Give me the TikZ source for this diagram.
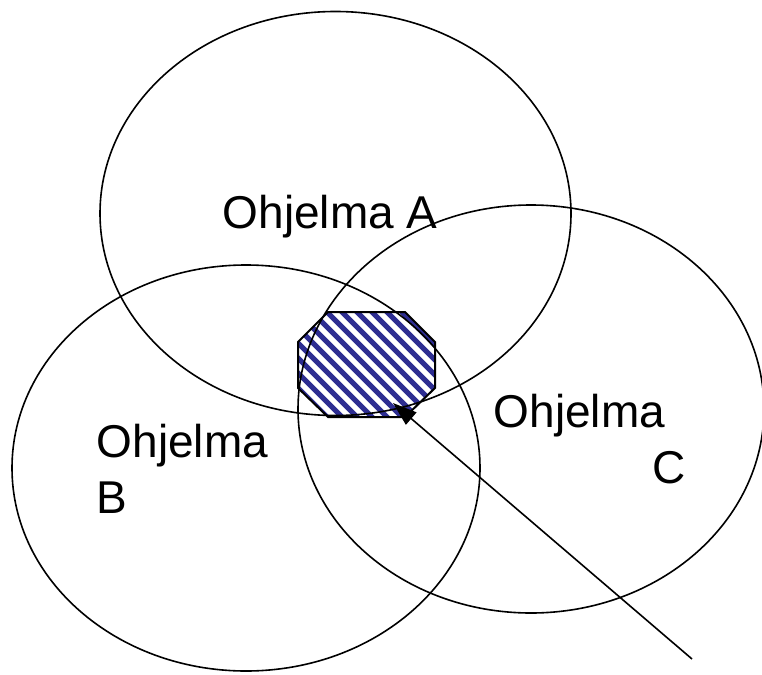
\documentclass[tikz,border=0pt]{standalone}
\usepackage{fontspec}
\setmainfont{Liberation Sans}
\usetikzlibrary{arrows.meta}
\definecolor{hatchblue}{RGB}{45,45,145}

\begin{document}
\begin{tikzpicture}[x=1pt,y=-1pt,line width=1.6pt,
  label/.style={inner sep=0pt,align=left,font=\fontsize{46}{56}\selectfont},
  hatch/.style={hatchblue,line width=5pt},
  pointer/.style={-{Triangle[length=24pt,width=16pt]},line width=1.6pt}]
\useasboundingbox (0,0) rectangle (762,674);
% hatched overlap
\path (328,312) coordinate (o1) (405,312) coordinate (o2) (435,342) coordinate (o3)
  (435,388) coordinate (o4) (405,417) coordinate (o5) (328,417) coordinate (o6)
  (298,388) coordinate (o7) (298,342) coordinate (o8);
\begin{scope}
\clip (o1) -- (o2) -- (o3) -- (o4) -- (o5) -- (o6) -- (o7) -- (o8) -- cycle;
\foreach \k in {-12,...,12}
  \draw[hatch] (300+\k*15,300) -- ++(135,135);
\end{scope}
\draw[line width=2pt] (o1) -- (o2) -- (o3) -- (o4) -- (o5) -- (o6) -- (o7) -- (o8) -- cycle;
% the three programs
\draw (335.5,213.5) ellipse [x radius=235.5pt,y radius=202pt];
\draw (246,468) ellipse [x radius=234pt,y radius=203pt];
\draw (531,409) ellipse [x radius=233pt,y radius=204pt];
\node[label,anchor=base west] (progA) at (222,228) {Ohjelma A};
\node[label,anchor=base west] (progB) at (96,513) {Ohjelma\\B};
\node[label,anchor=base west] (progC) at (493,483) {Ohjelma\\\hspace*{159pt}C};
% pointer
\coordinate (tail) at (692,659);
\coordinate (tip) at (393,403);
\draw[pointer] (tail) -- (tip);
\end{tikzpicture}
\end{document}
